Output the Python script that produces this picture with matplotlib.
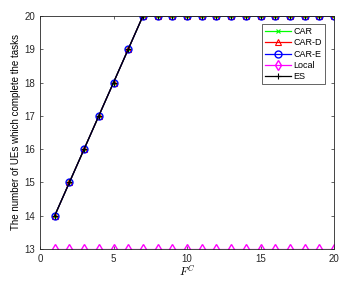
import numpy as np
from matplotlib import pyplot as plt

x = np.arange(1, 21)
car = [14, 15, 16, 17, 18, 19, 20, 20, 20, 20, 20, 20, 20, 20, 20, 20, 20, 20, 20, 20]
car_d = [14, 15, 16, 17, 18, 19, 20, 20, 20, 20, 20, 20, 20, 20, 20, 20, 20, 20, 20, 20]
car_e = [14, 15, 16, 17, 18, 19, 20, 20, 20, 20, 20, 20, 20, 20, 20, 20, 20, 20, 20, 20]
local = [13] * 20
es = [14, 15, 16, 17, 18, 19, 20, 20, 20, 20, 20, 20, 20, 20, 20, 20, 20, 20, 20, 20]

plt.rcParams['font.family'] = ['Liberation Sans', 'DejaVu Sans']
plt.rcParams['mathtext.fontset'] = 'cm'
fig = plt.figure(figsize=(3.47, 2.88), dpi=100)
ax = fig.add_axes((40/347, 1 - 249/288, 294/347, 233/288))

ax.plot(x, car, color='#00ff00', marker='x', ms=3.5, mew=0.8, lw=0.9, label='CAR')
ax.plot(x, car_d, color='#ff0000', marker='^', ms=5, mfc='none', mew=0.8, lw=0.9, label='CAR-D')
ax.plot(x, car_e, color='#0000ff', marker='o', ms=5, mfc='none', mew=1.0, lw=0.9, label='CAR-E')
ax.plot(x, local, color='#ff00ff', marker='d', ms=5, mfc='none', mew=1.0, lw=0.9, label='Local')
ax.plot(x, es, color='black', marker='+', ms=5, mew=0.8, lw=0.9, label='ES')

ax.set_xlim(0, 20)
ax.set_ylim(13, 20)
ax.set_xticks([0, 5, 10, 15, 20])
ax.set_yticks(range(13, 21))
ax.tick_params(direction='in', top=True, right=True, labelsize=7, length=2.5, width=0.5, colors='#262626')
for s in ax.spines.values():
    s.set_linewidth(0.6)
    s.set_color('#262626')
ax.set_xlabel('$F^C$', fontsize=8, labelpad=0)
ax.set_ylabel('The number of UEs which complete the tasks', fontsize=7, labelpad=2)
ax.legend(loc='upper right', fontsize=6.5, bbox_to_anchor=(0.985, 0.985), borderpad=0.35,
          labelspacing=0.25, handlelength=2.8, handletextpad=0.3, fancybox=False,
          edgecolor='#262626', framealpha=1).get_frame().set_linewidth(0.5)

plt.savefig('out.png')
